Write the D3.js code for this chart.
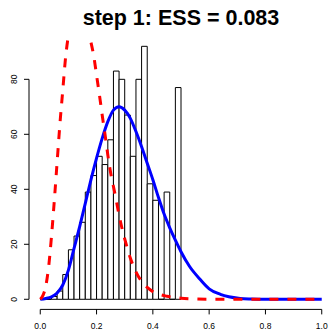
<!DOCTYPE html>
<html>
<head>
<meta charset="utf-8">
<script src="https://cdn.jsdelivr.net/npm/d3@7"></script>
<style>
  html, body { margin: 0; padding: 0; background: #fff; }
  svg { display: block; font-family: "Liberation Sans", Arial, Helvetica, sans-serif; }
</style>
</head>
<body>
<div id="chart"></div>
<script>
// histogram: left bin edges (width 0.02) and counts
const binStarts = [0.00, 0.02, 0.04, 0.06, 0.08, 0.10, 0.12, 0.14, 0.16, 0.18,
                   0.20, 0.22, 0.24, 0.26, 0.28, 0.30, 0.32, 0.34, 0.36, 0.38,
                   0.40, 0.42, 0.44, 0.46, 0.48];
const binWidth = 0.02;
const counts = [0, 0, 1, 3, 9, 18, 23, 28, 39, 45,
                52, 49, 58, 83, 80, 67, 52, 80, 92, 42,
                36, 0, 39, 0, 77];

// blue curve (fitted density, in counts)
const fitX = [0, 0.02, 0.04, 0.06, 0.08, 0.10, 0.12, 0.14, 0.16, 0.18,
              0.20, 0.22, 0.24, 0.26, 0.28, 0.30, 0.32, 0.34, 0.36, 0.38,
              0.40, 0.42, 0.44, 0.46, 0.48, 0.50, 0.53, 0.57, 0.60, 0.64,
              0.67, 0.71, 0.75, 0.80, 0.90, 1.00];
const fitY = [0, 0.3, 0.9, 2.3, 5.2, 10.6, 18.5, 26.4, 34.9, 43.4,
              51.3, 58.5, 64.6, 68.8, 70, 68.8, 65.8, 61, 55.5, 49.5,
              43.5, 37, 31, 26, 21.5, 17.3, 12, 7, 3.8, 1.8,
              0.9, 0.3, 0.1, 0, 0, 0];

// red dashed curve (prior, in counts) - peak runs off the top
const priorX = [0, 0.01, 0.02, 0.03, 0.04, 0.05, 0.06, 0.07, 0.08, 0.09,
                0.10, 0.11, 0.12, 0.13, 0.14, 0.15, 0.16, 0.17, 0.18, 0.19,
                0.20, 0.21, 0.22, 0.23, 0.24, 0.25, 0.26, 0.27, 0.28, 0.29,
                0.30, 0.32, 0.34, 0.36, 0.38, 0.40, 0.42, 0.45, 0.50, 0.55,
                0.60, 1.00];
const priorY = [0, 1.5, 5, 12, 23, 36, 50, 64, 76, 88,
                96, 102, 105.5, 107, 107.5, 105, 101.5, 97.5, 93.5, 88.5,
                81.5, 74.5, 67, 60, 52.5, 46, 41, 36, 30.5, 26,
                22, 15, 10, 6.5, 4.3, 2.8, 1.9, 1.1, 0.4, 0.1,
                0, 0];

const xTicks = [0, 0.2, 0.4, 0.6, 0.8, 1.0];
const yTicks = [0, 20, 40, 60, 80];
const title = 'step 1: ESS = 0.083';

const width = 328, height = 330;
const plot = { left: 29, right: 333, top: 36.2, bottom: 309.4 };

const svg = d3.select('#chart')
  .append('svg')
  .attr('width', width)
  .attr('height', height);

// R style: pad the data range by 4% on each side
const yMax = d3.max(counts);
const x = d3.scaleLinear()
  .domain([-0.04, 1.04])
  .range([plot.left, plot.right]);
const y = d3.scaleLinear()
  .domain([-0.04 * yMax, 1.04 * yMax])
  .range([plot.bottom, plot.top]);

svg.append('clipPath')
  .attr('id', 'plot-clip')
  .append('rect')
  .attr('x', plot.left)
  .attr('y', plot.top)
  .attr('width', plot.right - plot.left)
  .attr('height', plot.bottom - plot.top);

const g = svg.append('g').attr('clip-path', 'url(#plot-clip)');

// Add bars (paths, so empty bins still show as a line on 0)
g.selectAll('.bar')
  .data(binStarts.map((b, i) => ({ b, c: counts[i] })))
  .enter().append('path')
  .attr('class', 'bar')
  .attr('d', d => {
    const x0 = x(d.b), x1 = x(d.b + binWidth);
    return `M${x0},${y(0)}V${y(d.c)}H${x1}V${y(0)}Z`;
  })
  .attr('fill', '#fff')
  .attr('stroke', '#000')
  .attr('stroke-width', 1);

// Add curves
const line = d3.line()
  .x(d => x(d[0]))
  .y(d => y(d[1]))
  .curve(d3.curveMonotoneX);

g.append('path')
  .datum(fitX.map((v, i) => [v, fitY[i]]))
  .attr('fill', 'none')
  .attr('stroke', '#0000ff')
  .attr('stroke-width', 3)
  .attr('d', line);

g.append('path')
  .datum(priorX.map((v, i) => [v, priorY[i]]))
  .attr('fill', 'none')
  .attr('stroke', '#ff0000')
  .attr('stroke-width', 3)
  .attr('stroke-dasharray', '9,9')
  .attr('d', line);

// Add axes
const xAxis = svg.append('g')
  .attr('transform', `translate(0,${plot.bottom})`)
  .call(d3.axisBottom(x)
    .tickValues(xTicks)
    .tickFormat(d3.format('.1f'))
    .tickSize(5)
    .tickPadding(9)
    .offset(0));
xAxis.select('.domain').remove();
xAxis.append('line')
  .attr('x1', x(xTicks[0]))
  .attr('x2', x(xTicks[xTicks.length - 1]))
  .attr('stroke', '#000');
xAxis.selectAll('text')
  .attr('font-size', '8.5px')
  .attr('font-family', null)
  .attr('fill', '#000');

const yAxis = svg.append('g')
  .attr('transform', `translate(${plot.left},0)`)
  .call(d3.axisLeft(y)
    .tickValues(yTicks)
    .tickSize(5)
    .offset(0));
yAxis.select('.domain').remove();
yAxis.append('line')
  .attr('y1', y(yTicks[0]))
  .attr('y2', y(yTicks[yTicks.length - 1]))
  .attr('stroke', '#000');
yAxis.selectAll('text')
  .attr('font-size', '8.5px')
  .attr('font-family', null)
  .attr('fill', '#000')
  .attr('text-anchor', 'middle')
  .attr('x', 0)
  .attr('y', -12.3)
  .attr('dy', null)
  .attr('transform', 'rotate(-90)');

// Add title
svg.append('text')
  .attr('x', (plot.left + plot.right) / 2)
  .attr('y', 25)
  .attr('text-anchor', 'middle')
  .style('font-size', '21.5px')
  .style('font-weight', 'bold')
  .text(title);
</script>
</body>
</html>
